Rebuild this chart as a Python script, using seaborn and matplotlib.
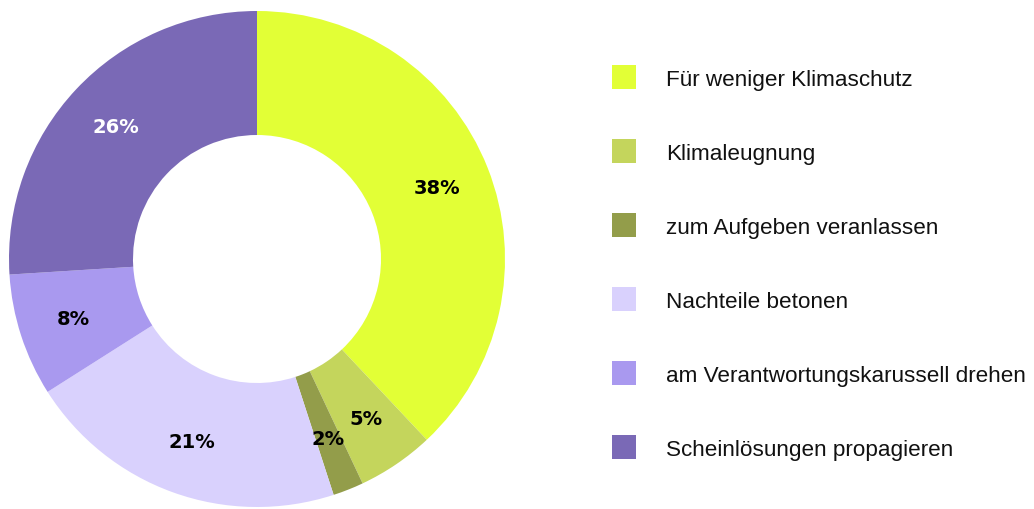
import matplotlib
matplotlib.use("Agg")
import matplotlib.pyplot as plt
from matplotlib.patches import Patch
import seaborn as sns

categories = ["Für weniger Klimaschutz", "Klimaleugnung", "zum Aufgeben veranlassen",
              "Nachteile betonen", "am Verantwortungskarussell drehen", "Scheinlösungen propagieren"]
values = [38, 5, 2, 21, 8, 26]
colors = ["#E2FF36", "#C4D55C", "#939D4A", "#D9D1FD", "#A999EF", "#7A69B6"]
label_colors = ["black", "black", "black", "black", "black", "white"]

sns.set_theme(style="white")
plt.rcParams['font.family'] = ['Liberation Sans', 'DejaVu Sans']
plt.rcParams['text.color'] = '#111111'

W, H = 1034, 510
fig = plt.figure(figsize=(W / 100, H / 100), dpi=100)
fig.patch.set_facecolor("white")

ax = fig.add_axes([9 / W, 2 / H, 496 / W, 496 / H])
wedges, texts, autotexts = ax.pie(
    values, colors=sns.color_palette(colors), startangle=90, counterclock=False,
    autopct=lambda p: f"{round(p)}%", pctdistance=0.78,
    wedgeprops=dict(width=0.5, linewidth=0),
    textprops=dict(fontsize=14, fontweight="heavy", family="DejaVu Sans"))
for t, c in zip(autotexts, label_colors):
    t.set_color(c)
ax.set_xlim(-1, 1)
ax.set_ylim(-1, 1)
ax.axis("off")

handles = [Patch(facecolor=c, edgecolor="none") for c in colors]
fs = 16.2
fig.legend(handles, categories, loc="upper left", bbox_to_anchor=(612 / W, 1 - 66 / H),
           frameon=False, fontsize=fs, borderpad=0, borderaxespad=0,
           handlelength=1.07, handleheight=1.26, handletextpad=1.33, labelspacing=2.2,
           labelcolor="#111111")

fig.savefig("out.png", dpi=100, facecolor="white")
